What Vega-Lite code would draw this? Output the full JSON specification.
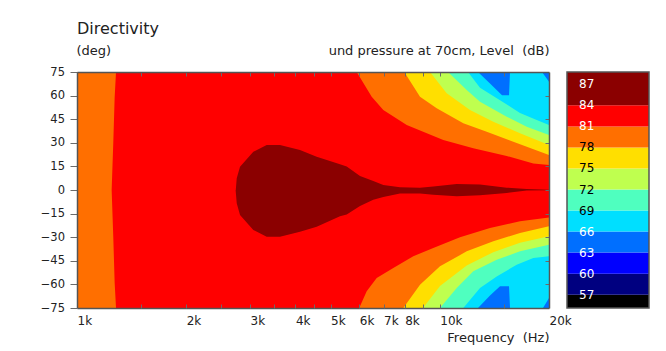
{
 "$schema": "https://vega.github.io/schema/vega-lite/v6.json",
 "padding": {"left": 40, "top": 21, "right": 5, "bottom": 5},
 "background": "white",
 "config": {
  "font": "DejaVu Sans",
  "view": {"stroke": null},
  "axis": {"grid": false, "labelFont": "DejaVu Sans", "labelFontSize": 11.5, "labelColor": "#222222", "titleFont": "DejaVu Sans", "titleFontSize": 13, "titleFontWeight": "normal", "titleColor": "#222222", "tickColor": "#6b6b6b", "domainColor": "#555555", "domainWidth": 1.5, "labelOverlap": false, "labelFlush": false}
 },
 "datasets": {
  "c": [
   {"l":63,"s":"u","f":11000,"a":75},{"l":63,"s":"u","f":20000,"a":75},
   {"l":63,"s":"d","f":11000,"a":-75},{"l":63,"s":"d","f":20000,"a":-75},
   {"l":66,"s":"u","f":10500,"a":75},{"l":66,"s":"u","f":12745,"a":75},{"l":66,"s":"u","f":13754,"a":67.7},{"l":66,"s":"u","f":14843,"a":60.3},{"l":66,"s":"u","f":15517,"a":60.3},{"l":66,"s":"u","f":15616,"a":75},{"l":66,"s":"u","f":19133,"a":75},{"l":66,"s":"u","f":20000,"a":68.8},
   {"l":66,"s":"d","f":10500,"a":-75},{"l":66,"s":"d","f":12745,"a":-75},{"l":66,"s":"d","f":13754,"a":-67},{"l":66,"s":"d","f":14656,"a":-61.2},{"l":66,"s":"d","f":15517,"a":-61.2},{"l":66,"s":"d","f":15616,"a":-75},{"l":66,"s":"d","f":19255,"a":-75},{"l":66,"s":"d","f":20000,"a":-68.6},
   {"l":69,"s":"u","f":9500,"a":75},{"l":69,"s":"u","f":11961,"a":75},{"l":69,"s":"u","f":12908,"a":65},{"l":69,"s":"u","f":14656,"a":57},{"l":69,"s":"u","f":16639,"a":49},{"l":69,"s":"u","f":18500,"a":44.5},{"l":69,"s":"u","f":20000,"a":41.3},
   {"l":69,"s":"d","f":9500,"a":-75},{"l":69,"s":"d","f":11609,"a":-75},{"l":69,"s":"d","f":12908,"a":-62.3},{"l":69,"s":"d","f":14352,"a":-54.9},{"l":69,"s":"d","f":16294,"a":-47.5},{"l":69,"s":"d","f":18105,"a":-43.2},{"l":69,"s":"d","f":20000,"a":-42.1},
   {"l":72,"s":"u","f":8500,"a":75},{"l":72,"s":"u","f":10535,"a":75},{"l":72,"s":"u","f":11863,"a":63.6},{"l":72,"s":"u","f":12908,"a":56.1},{"l":72,"s":"u","f":15292,"a":46.6},{"l":72,"s":"u","f":17362,"a":40.2},{"l":72,"s":"u","f":20000,"a":35},
   {"l":72,"s":"d","f":8500,"a":-75},{"l":72,"s":"d","f":10013,"a":-75},{"l":72,"s":"d","f":11133,"a":-62.3},{"l":72,"s":"d","f":12370,"a":-51.7},{"l":72,"s":"d","f":14352,"a":-44.3},{"l":72,"s":"d","f":16639,"a":-39},{"l":72,"s":"d","f":20000,"a":-34.8},
   {"l":75,"s":"u","f":7500,"a":75},{"l":75,"s":"u","f":9398,"a":75},{"l":75,"s":"u","f":10448,"a":61.5},{"l":75,"s":"u","f":12114,"a":50.9},{"l":75,"s":"u","f":14045,"a":43.4},{"l":75,"s":"u","f":16639,"a":36},{"l":75,"s":"u","f":20000,"a":28.6},
   {"l":75,"s":"d","f":7500,"a":-75},{"l":75,"s":"d","f":8989,"a":-75},{"l":75,"s":"d","f":10013,"a":-61},{"l":75,"s":"d","f":11863,"a":-48},{"l":75,"s":"d","f":14045,"a":-39.5},{"l":75,"s":"d","f":16639,"a":-33.5},{"l":75,"s":"d","f":20000,"a":-29.4},
   {"l":78,"s":"u","f":1000,"a":75},{"l":78,"s":"u","f":7983,"a":75},{"l":78,"s":"u","f":8820,"a":59.3},{"l":78,"s":"u","f":9806,"a":51.9},{"l":78,"s":"u","f":11609,"a":42.4},{"l":78,"s":"u","f":13469,"a":37.1},{"l":78,"s":"u","f":15946,"a":30.7},{"l":78,"s":"u","f":20000,"a":22.3},
   {"l":78,"s":"d","f":1000,"a":-75},{"l":78,"s":"d","f":7933,"a":-75},{"l":78,"s":"d","f":8820,"a":-60.2},{"l":78,"s":"d","f":10013,"a":-48.5},{"l":78,"s":"d","f":11863,"a":-39},{"l":78,"s":"d","f":14045,"a":-32.6},{"l":78,"s":"d","f":16639,"a":-27.3},{"l":78,"s":"d","f":20000,"a":-23.1},
   {"l":81,"s":"u","f":1246,"a":0},{"l":81,"s":"u","f":1259,"a":30},{"l":81,"s":"u","f":1270,"a":59},{"l":81,"s":"u","f":1281,"a":75},{"l":81,"s":"u","f":5902,"a":75},{"l":81,"s":"u","f":6491,"a":59.3},{"l":81,"s":"u","f":6987,"a":50.9},{"l":81,"s":"u","f":8106,"a":41.3},{"l":81,"s":"u","f":10225,"a":31.8},{"l":81,"s":"u","f":12370,"a":26.5},{"l":81,"s":"u","f":15292,"a":21.6},{"l":81,"s":"u","f":18105,"a":16.9},{"l":81,"s":"u","f":20000,"a":15.9},
   {"l":81,"s":"d","f":1246,"a":0},{"l":81,"s":"d","f":1259,"a":-30},{"l":81,"s":"d","f":1270,"a":-59},{"l":81,"s":"d","f":1281,"a":-75},{"l":81,"s":"d","f":5988,"a":-75},{"l":81,"s":"d","f":6027,"a":-73.9},{"l":81,"s":"d","f":6288,"a":-64.4},{"l":81,"s":"d","f":6700,"a":-55.9},{"l":81,"s":"d","f":7445,"a":-49.6},{"l":81,"s":"d","f":8452,"a":-42.1},{"l":81,"s":"d","f":9596,"a":-36.9},{"l":81,"s":"d","f":11369,"a":-30.1},{"l":81,"s":"d","f":13754,"a":-24.2},{"l":81,"s":"d","f":16639,"a":-19.9},{"l":81,"s":"d","f":20000,"a":-17.4},
   {"l":84,"s":"u","f":2738,"a":-0.6},{"l":84,"s":"u","f":2756,"a":7.5},{"l":84,"s":"u","f":2814,"a":14.8},{"l":84,"s":"u","f":3062,"a":24.3},{"l":84,"s":"u","f":3333,"a":28.6},{"l":84,"s":"u","f":3627,"a":28.6},{"l":84,"s":"u","f":4118,"a":25.4},{"l":84,"s":"u","f":4578,"a":21.2},{"l":84,"s":"u","f":5308,"a":16.3},{"l":84,"s":"u","f":5539,"a":14.9},{"l":84,"s":"u","f":6027,"a":8.9},{"l":84,"s":"u","f":6557,"a":5.7},{"l":84,"s":"u","f":6987,"a":3.2},{"l":84,"s":"u","f":7768,"a":1.7},{"l":84,"s":"u","f":8820,"a":1.5},{"l":84,"s":"u","f":9596,"a":2.2},{"l":84,"s":"u","f":11133,"a":3.8},{"l":84,"s":"u","f":12908,"a":3.5},{"l":84,"s":"u","f":15292,"a":1.5},{"l":84,"s":"u","f":17362,"a":0.6},{"l":84,"s":"u","f":20000,"a":0.1},
   {"l":84,"s":"d","f":2738,"a":-0.6},{"l":84,"s":"d","f":2756,"a":-8.5},{"l":84,"s":"d","f":2814,"a":-15.9},{"l":84,"s":"d","f":3062,"a":-25.4},{"l":84,"s":"d","f":3333,"a":-29.7},{"l":84,"s":"d","f":3627,"a":-29.7},{"l":84,"s":"d","f":4118,"a":-26.5},{"l":84,"s":"d","f":4578,"a":-23.3},{"l":84,"s":"d","f":5308,"a":-16.7},{"l":84,"s":"d","f":5539,"a":-15.6},{"l":84,"s":"d","f":6027,"a":-10.2},{"l":84,"s":"d","f":6557,"a":-6.2},{"l":84,"s":"d","f":6987,"a":-4.5},{"l":84,"s":"d","f":7768,"a":-2.2},{"l":84,"s":"d","f":8820,"a":-2.2},{"l":84,"s":"d","f":9596,"a":-3},{"l":84,"s":"d","f":11133,"a":-4},{"l":84,"s":"d","f":12908,"a":-3.4},{"l":84,"s":"d","f":15292,"a":-1.9},{"l":84,"s":"d","f":17362,"a":-0.3},{"l":84,"s":"d","f":20000,"a":-0.1}
  ],
  "b": [
   {"l":54,"lo":54,"hi":57},{"l":57,"lo":57,"hi":60},{"l":60,"lo":60,"hi":63},{"l":63,"lo":63,"hi":66},{"l":66,"lo":66,"hi":69},{"l":69,"lo":69,"hi":72},{"l":72,"lo":72,"hi":75},{"l":75,"lo":75,"hi":78},{"l":78,"lo":78,"hi":81},{"l":81,"lo":81,"hi":84},{"l":84,"lo":84,"hi":90}
  ],
  "t": [
   {"v":57},{"v":60},{"v":63},{"v":66},{"v":69},{"v":72},{"v":75},{"v":78},{"v":81},{"v":84},{"v":87}
  ]
 },
 "bounds": "flush",
 "spacing": 18,
 "resolve": {"scale": {"x": "independent", "y": "independent"}, "axis": {"x": "independent", "y": "independent"}},
 "hconcat": [
  {
   "width": 472,
   "height": 236,
   "title": {"text": "Directivity", "anchor": "start", "frame": "group", "fontSize": 16, "fontWeight": "normal", "color": "#222222", "baseline": "alphabetic", "offset": 9, "dy": 15},
   "data": {"name": "c"},
   "encoding": {
    "x": {"field": "f", "type": "quantitative", "scale": {"type": "log", "domain": [1000, 20000], "nice": false}, "axis": null},
    "y": {"field": "a", "type": "quantitative", "stack": null, "scale": {"domain": [-75, 75], "nice": false, "zero": false}, "axis": null},
    "y2": {"datum": 0},
    "color": {"field": "l", "type": "ordinal", "scale": {"domain": [54,57,60,63,66,69,72,75,78,81,84], "range": ["#000000","#000080","#0000ff","#006fff","#00dfff","#4fffbf","#bfff4f","#ffdf00","#ff6f00","#ff0000","#8b0000"]}, "legend": null},
    "detail": {"field": "s"}
   },
   "layer": [
    {"transform": [{"filter": "datum.l == 63"}], "mark": {"type": "area", "orient": "vertical", "clip": true},
     "encoding": {
      "x": {"field": "f", "type": "quantitative", "scale": {"type": "log", "domain": [1000, 20000], "nice": false},
        "axis": {"orient": "bottom", "values": [1000,2000,3000,4000,5000,6000,7000,8000,10000,20000], "labelExpr": "datum.value / 1000 + 'k'", "ticks": false, "tickSize": 0, "labelAlign": "left", "labelPadding": 7, "labelFontSize": 12, "labelOverlap": false, "title": "Frequency\u00a0 (Hz)", "titleX": 472, "titleY": 33, "titleAlign": "right", "titleBaseline": "alphabetic", "domain": true, "zindex": 1}},
      "y": {"field": "a", "type": "quantitative", "stack": null, "scale": {"domain": [-75, 75], "nice": false, "zero": false},
        "axis": {"orient": "left", "values": [-75,-60,-45,-30,-15,0,15,30,45,60,75], "tickSize": 7, "labelPadding": 5.5, "labelOverlap": false, "title": "(deg)", "titleAngle": 0, "titleX": -1, "titleY": -18, "titleAlign": "left", "titleBaseline": "alphabetic", "domain": true, "zindex": 1}}
     }},
    {"transform": [{"filter": "datum.l == 66"}], "mark": {"type": "area", "orient": "vertical", "clip": true},
     "encoding": {
      "x": {"field": "f", "type": "quantitative", "scale": {"type": "log", "domain": [1000, 20000], "nice": false},
        "axis": {"orient": "top", "values": [1500,2000,2500,3000,3500,4000,4500,5000,6000,7000,8000,9000,10000,15000], "tickSize": -4, "labels": false, "title": "und pressure at 70cm, Level\u00a0 (dB)", "titleX": 472, "titleY": -18, "titleAlign": "right", "titleBaseline": "alphabetic", "domain": true, "zindex": 1}},
      "y": {"field": "a", "type": "quantitative", "stack": null, "scale": {"domain": [-75, 75], "nice": false, "zero": false},
        "axis": {"orient": "right", "values": [-60,-45,-30,-15,0,15,30,45,60], "tickSize": -4, "labels": false, "title": null, "domain": true, "zindex": 1}}
     }},
    {"transform": [{"filter": "datum.l == 69"}], "mark": {"type": "area", "orient": "vertical", "clip": true},
     "encoding": {
      "x": {"field": "f", "type": "quantitative", "scale": {"type": "log", "domain": [1000, 20000], "nice": false},
        "axis": {"orient": "bottom", "values": [1500,2000,2500,3000,3500,4000,4500,5000,6000,7000,8000,9000,10000,15000], "tickSize": -4, "labels": false, "title": null, "domain": false, "zindex": 1}}
     }},
    {"transform": [{"filter": "datum.l == 72"}], "mark": {"type": "area", "orient": "vertical", "clip": true}},
    {"transform": [{"filter": "datum.l == 75"}], "mark": {"type": "area", "orient": "vertical", "clip": true}},
    {"transform": [{"filter": "datum.l == 78"}], "mark": {"type": "area", "orient": "vertical", "clip": true}},
    {"transform": [{"filter": "datum.l == 81"}], "mark": {"type": "area", "orient": "vertical", "clip": true}},
    {"transform": [{"filter": "datum.l == 84"}], "mark": {"type": "area", "orient": "vertical", "clip": true}}
   ],
   "resolve": {"axis": {"x": "independent", "y": "independent"}}
  },
  {
   "width": 82,
   "height": 236,
   "data": {"name": "b"},
   "layer": [
    {"mark": {"type": "rect", "clip": true},
     "encoding": {
      "y": {"field": "lo", "type": "quantitative", "scale": {"domain": [55.1, 88.76], "nice": false, "zero": false},
        "axis": {"orient": "left", "values": [57,60,63,66,69,72,75,78,81,84,87], "tickSize": 4, "tickColor": "#5f8c98", "labels": false, "domain": false, "title": null, "zindex": 1}},
      "y2": {"field": "hi"},
      "color": {"field": "l", "type": "ordinal", "scale": {"domain": [54,57,60,63,66,69,72,75,78,81,84], "range": ["#000000","#000080","#0000ff","#006fff","#00dfff","#4fffbf","#bfff4f","#ffdf00","#ff6f00","#ff0000","#8b0000"]}, "legend": null}
     }},
    {"data": {"name": "t"},
     "mark": {"type": "text", "align": "left", "baseline": "middle", "dx": -29, "fontSize": 12, "font": "DejaVu Sans"},
     "encoding": {
      "y": {"field": "v", "type": "quantitative", "axis": null},
      "text": {"field": "v", "type": "quantitative"},
      "color": {"condition": {"test": "datum.v >= 80 || datum.v <= 67", "value": "#ffffff"}, "value": "#000000"}
     }},
    {"transform": [{"filter": "datum.l == 84"}], "mark": {"type": "rect", "fill": null, "stroke": "#555555", "strokeWidth": 1.5},
     "encoding": {"y": {"datum": 55.1, "axis": null}, "y2": {"datum": 88.76}}}
   ]
  }
 ]
}
